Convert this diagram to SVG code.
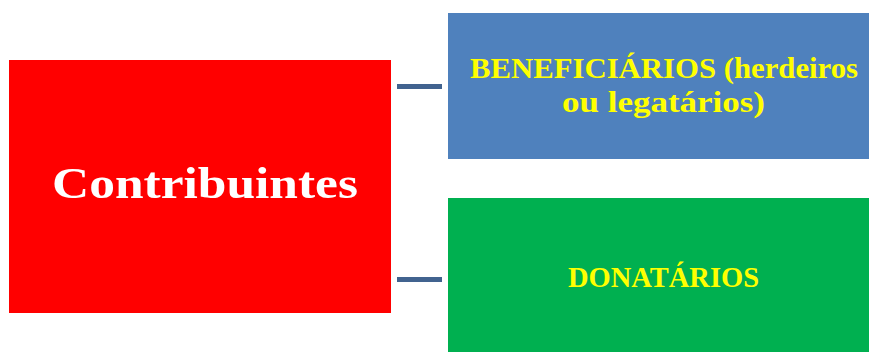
<svg xmlns="http://www.w3.org/2000/svg" width="869" height="352" viewBox="0 0 869 352">
<style>
.t{font-family:"Liberation Serif","DejaVu Serif",serif;font-weight:bold;text-anchor:middle}
.y{fill:#FFFF00;font-size:30px}
.w{fill:#FFFFFF;font-size:45px}
.c{stroke:#41638F;stroke-width:5;fill:none}
</style>
<rect width="869" height="352" fill="#FFFFFF"/>
<g id="connectors">
<line class="c" x1="397" y1="86.5" x2="442" y2="86.5"/>
<line class="c" x1="397" y1="279.5" x2="442" y2="279.5"/>
</g>
<g id="contribuintes">
<rect x="9" y="60" width="382" height="253" fill="#FF0000"/>
<text class="t w" x="205" y="198" textLength="306" lengthAdjust="spacingAndGlyphs">Contribuintes</text>
</g>
<g id="beneficiarios">
<rect x="448" y="13" width="421" height="146" fill="#4F81BD"/>
<text class="t y" x="664" y="78" textLength="388" lengthAdjust="spacingAndGlyphs">BENEFICIÁRIOS (herdeiros</text>
<text class="t y" x="663.5" y="112" textLength="203" lengthAdjust="spacingAndGlyphs">ou legatários)</text>
</g>
<g id="donatarios">
<rect x="448" y="198" width="421" height="154" fill="#00B050"/>
<text class="t y" x="663.5" y="287" textLength="191" lengthAdjust="spacingAndGlyphs">DONATÁRIOS</text>
</g>
</svg>
